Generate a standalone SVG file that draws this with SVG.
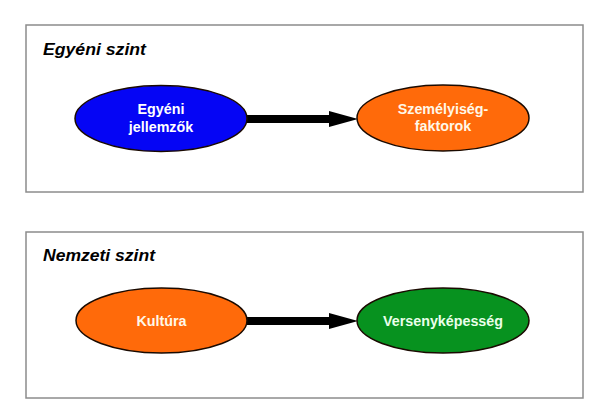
<svg xmlns="http://www.w3.org/2000/svg" width="609" height="415" viewBox="0 0 609 415">
<defs>
<style>
.panel{fill:#fff;stroke:#8c8c8c;stroke-width:1.5}
.title{font-family:"Liberation Sans",Arial,sans-serif;font-weight:bold;font-style:italic;font-size:16.5px;fill:#000}
.node{stroke:#1a0a00;stroke-width:1.5}
.lbl{font-family:"Liberation Sans",Arial,sans-serif;font-weight:bold;font-size:14.3px;text-anchor:middle}
.conn{stroke:#000;stroke-width:8;fill:none}
</style>
<marker id="ah" markerUnits="userSpaceOnUse" markerWidth="30" markerHeight="16" refX="1" refY="8" orient="auto">
<path d="M0,0 L29,8 L0,16 Z" fill="#000"/>
</marker>
</defs>
<rect width="609" height="415" fill="#fff"/>
<g id="panel-egyeni">
<rect class="panel" x="26" y="25" width="557" height="167"/>
<text class="title" x="43" y="54.5" textLength="103" lengthAdjust="spacingAndGlyphs">Egyéni szint</text>
</g>
<g id="panel-nemzeti">
<rect class="panel" x="26" y="232" width="557" height="166"/>
<text class="title" x="43" y="261" textLength="112" lengthAdjust="spacingAndGlyphs">Nemzeti szint</text>
</g>
<g id="connectors">
<line class="conn" x1="247" y1="119" x2="330" y2="119" marker-end="url(#ah)"/>
<line class="conn" x1="247" y1="321" x2="330" y2="321" marker-end="url(#ah)"/>
</g>
<g id="node-egyeni-jellemzok">
<ellipse class="node" cx="161" cy="118.5" rx="86" ry="33" fill="#0505f5"/>
<text class="lbl" x="161" y="114" fill="#fff">Egyéni</text>
<text class="lbl" x="161" y="131.5" fill="#fff">jellemzők</text>
</g>
<g id="node-szemelyiseg">
<ellipse class="node" cx="443" cy="118" rx="86" ry="33" fill="#ff6a0a"/>
<text class="lbl" x="443" y="113.5" fill="#fff8e8">Személyiség-</text>
<text class="lbl" x="443" y="131" fill="#fff8e8">faktorok</text>
</g>
<g id="node-kultura">
<ellipse class="node" cx="161.5" cy="320.5" rx="85.5" ry="32.5" fill="#ff6a0a"/>
<text class="lbl" x="161.5" y="325.5" fill="#fff8e8">Kultúra</text>
</g>
<g id="node-versenykepesseg">
<ellipse class="node" cx="443" cy="320.5" rx="86" ry="32.5" fill="#07921f"/>
<text class="lbl" x="443" y="325.5" fill="#eaffea">Versenyképesség</text>
</g>
</svg>
